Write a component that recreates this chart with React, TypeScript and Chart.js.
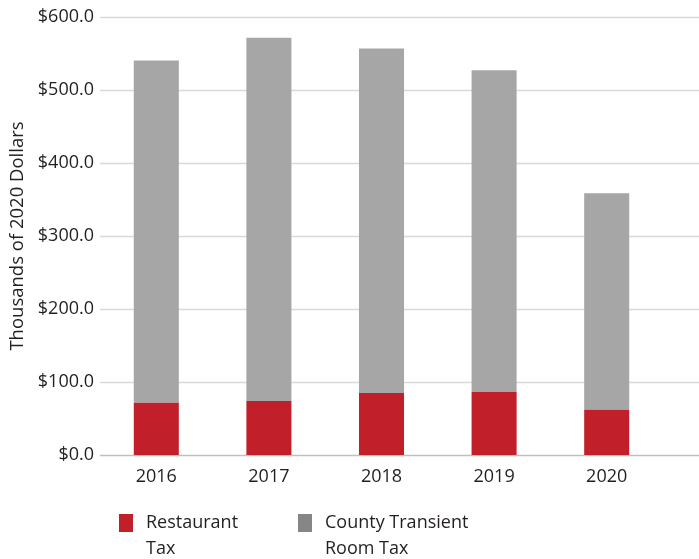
import React, { useEffect, useRef } from "react";
import { Chart, registerables } from "chart.js";

Chart.register(...registerables);

const years = ["2016", "2017", "2018", "2019", "2020"];
const restaurantTax = [71.5, 74, 85, 86.3, 62];
const countyTransientRoomTax = [469, 497.5, 472, 440.7, 296.5];
const yTickValues = [0, 100, 200, 300, 400, 500, 600];
const legendLines = [
  ["Restaurant", "Tax"],
  ["County Transient", "Room Tax"],
];

const RED = "#c1202a";
const GRAY = "#a6a6a6";
const GRAY_LEGEND = "#868686";
const TEXT = "#231f20";
const FONT = "'Open Sans', 'Noto Sans', sans-serif";
const legendColors = [RED, GRAY_LEGEND];
const legendOffsets = [19, 198];

const gridPlugin = {
  id: "fullGrid",
  beforeDatasetsDraw(chart: any) {
    const { ctx, chartArea } = chart;
    const y = chart.scales.y;
    ctx.save();
    yTickValues.forEach((v) => {
      const py = Math.round(y.getPixelForValue(v)) + 0.5;
      ctx.beginPath();
      ctx.strokeStyle = v === 0 ? "#bfbfbf" : "#d9d9d9";
      ctx.lineWidth = 1.5;
      ctx.moveTo(chartArea.left, py);
      ctx.lineTo(chart.width, py);
      ctx.stroke();
    });
    ctx.restore();
  },
};

const legendPlugin = {
  id: "bottomLegend",
  afterDraw(chart: any) {
    const { ctx, chartArea } = chart;
    const top = chartArea.bottom + 59;
    ctx.save();
    ctx.font = "18px " + FONT;
    ctx.fillStyle = TEXT;
    ctx.textBaseline = "alphabetic";
    ctx.textAlign = "left";
    legendLines.forEach((lines, i) => {
      const x = chartArea.left + legendOffsets[i];
      ctx.fillStyle = legendColors[i];
      ctx.fillRect(x, top, 14, 18);
      ctx.fillStyle = TEXT;
      lines.forEach((line, j) => {
        ctx.fillText(line, x + 27, top + 14 + j * 26);
      });
    });
    ctx.restore();
  },
};

export default function App() {
  const ref = useRef<HTMLCanvasElement>(null);
  useEffect(() => {
    document.body.style.margin = "0";
    const chart = new Chart(ref.current as HTMLCanvasElement, {
      type: "bar",
      data: {
        labels: years,
        datasets: [
          {
            label: "Restaurant Tax",
            data: restaurantTax,
            backgroundColor: RED,
            categoryPercentage: 1,
            barPercentage: 0.4,
          },
          {
            label: "County Transient Room Tax",
            data: countyTransientRoomTax,
            backgroundColor: GRAY,
            categoryPercentage: 1,
            barPercentage: 0.4,
          },
        ],
      },
      options: {
        responsive: false,
        animation: false,
        layout: { padding: { top: 17, right: 36, bottom: 64, left: 0 } },
        plugins: {
          tooltip: { enabled: false },
          legend: { display: false },
        },
        scales: {
          x: {
            stacked: true,
            grid: { display: false, drawTicks: false },
            border: { display: false },
            ticks: { color: TEXT, font: { family: FONT, size: 18 }, padding: 11 },
            afterFit: (s: any) => {
              s.height = 40;
            },
          },
          y: {
            stacked: true,
            min: 0,
            max: 600,
            grid: { display: false, drawTicks: false },
            border: { display: false },
            ticks: {
              stepSize: 100,
              color: TEXT,
              padding: 6,
              font: { family: FONT, size: 18 },
              callback: (v: any) => "$" + Number(v).toFixed(1),
            },
            title: {
              display: true,
              text: "Thousands of 2020 Dollars",
              color: TEXT,
              font: { family: FONT, size: 18.5 },
              padding: { top: 7, bottom: 0 },
            },
            afterFit: (s: any) => {
              s.width = 100;
            },
          },
        },
      },
      plugins: [gridPlugin, legendPlugin],
    });
    return () => chart.destroy();
  }, []);
  return (
    <div style={{ width: 699, height: 559 }}>
      <canvas ref={ref} width={699} height={559} style={{ display: "block" }} />
    </div>
  );
}
